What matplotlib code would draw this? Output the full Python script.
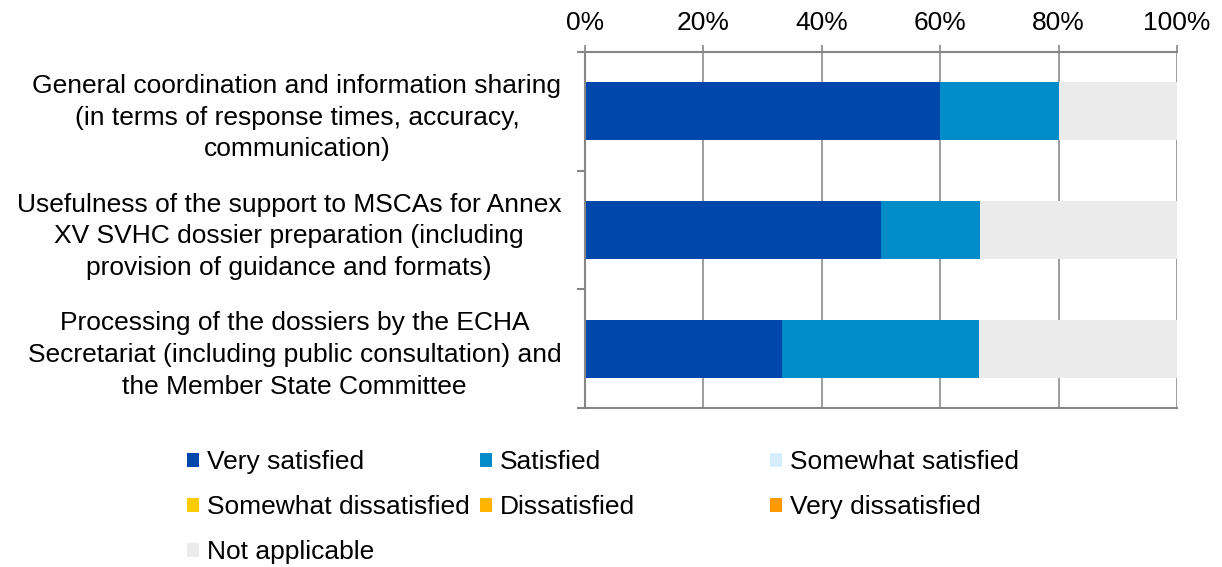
import matplotlib
matplotlib.use("Agg")
import matplotlib.pyplot as plt
from matplotlib.patches import Patch
from matplotlib.ticker import PercentFormatter

categories = [
    "General coordination and information sharing\n(in terms of response times, accuracy,\ncommunication)",
    "Usefulness of the support to MSCAs for Annex\nXV SVHC dossier preparation (including\nprovision of guidance and formats)",
    "Processing of the dossiers by the ECHA\nSecretariat (including public consultation) and\nthe Member State Committee",
]
series_names = ["Very satisfied", "Satisfied", "Somewhat satisfied",
                "Somewhat dissatisfied", "Dissatisfied", "Very dissatisfied",
                "Not applicable"]
very_satisfied = [60.0, 50.0, 33.3]
satisfied = [20.0, 16.7, 33.3]
somewhat_satisfied = [0, 0, 0]
somewhat_dissatisfied = [0, 0, 0]
dissatisfied = [0, 0, 0]
very_dissatisfied = [0, 0, 0]
not_applicable = [20.0, 33.3, 33.4]
x_ticks = [0, 20, 40, 60, 80, 100]

colors = ["#0047AB", "#008BC9", "#D6EEF9", "#FFCC00", "#FFB400", "#FF9900", "#EBEBEB"]
series = [very_satisfied, satisfied, somewhat_satisfied, somewhat_dissatisfied,
          dissatisfied, very_dissatisfied, not_applicable]

FS = 19
plt.rcParams['font.family'] = ['Liberation Sans', 'DejaVu Sans']
fig = plt.figure(figsize=(12.22, 5.67), dpi=100)
ax = fig.add_axes([585/1222, 1-408/567, (1177-585)/1222, (408-52)/567])

y = list(range(len(categories)))
left = [0.0]*len(categories)
for vals, c, name in zip(series, colors, series_names):
    ax.barh(y, vals, left=left, color=c, height=0.49, label=name, zorder=2)
    left = [l+v for l, v in zip(left, vals)]

ax.set_xlim(0, 100)
ax.set_ylim(2.5, -0.5)
ax.xaxis.tick_top()
ax.set_xticks(x_ticks)
ax.xaxis.set_major_formatter(PercentFormatter(decimals=0))
ax.grid(axis='x', color='#8C8C8C', linewidth=1.2, zorder=1)
gc = '#868686'
for s in ['left', 'top', 'bottom']:
    ax.spines[s].set_color(gc)
    ax.spines[s].set_linewidth(1.5)
ax.spines['right'].set_visible(False)

ax.set_yticks([-0.5, 0.5, 1.5, 2.5])
ax.set_yticklabels([])
ax.set_yticks(y, minor=True)
ax.set_yticklabels(categories, minor=True, fontsize=FS, ha='right',
                   multialignment='center', linespacing=1.4)
ax.tick_params(axis='y', which='major', length=6, color=gc, width=1.5, direction='out')
ax.tick_params(axis='y', which='minor', length=0, pad=17)
ax.tick_params(axis='x', which='major', length=5, color=gc, width=1.2, labelsize=FS, pad=7)

# legend in three columns, laid out row-wise like the original
col_x = [187/1222, 480/1222, 770/1222]
col_items = [[0, 3, 6], [1, 4], [2, 5]]
for cx, items in zip(col_x, col_items):
    handles = [Patch(facecolor=colors[i], edgecolor='none') for i in items]
    labels = [series_names[i] for i in items]
    fig.legend(handles, labels, loc='upper left', bbox_to_anchor=(cx, 1-450/567),
               frameon=False, fontsize=FS, handlelength=0.45, handleheight=0.45,
               handletextpad=0.3, labelspacing=0.8, borderaxespad=0, borderpad=0)

fig.savefig("out.png", dpi=100)
